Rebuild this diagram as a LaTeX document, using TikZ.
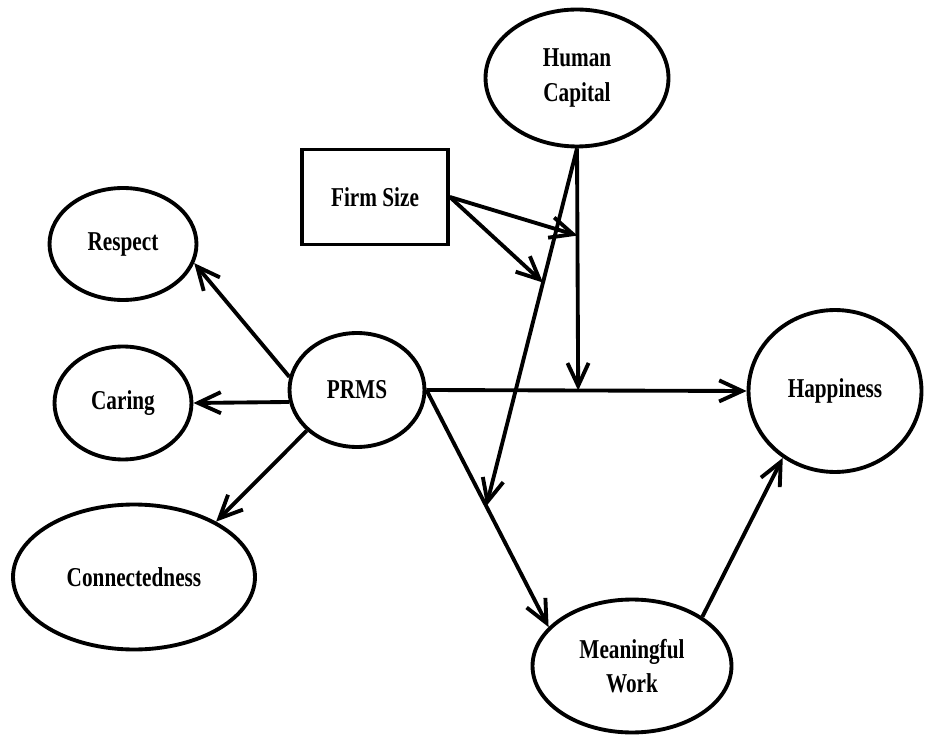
\documentclass[tikz,border=0pt]{standalone}
\usepackage{fontspec}
\newfontfamily\diagfont[FakeStretch=0.78]{Liberation Serif}
\usetikzlibrary{arrows.meta,shapes.geometric,calc}

\tikzset{
  latent/.style={ellipse,draw,line width=2.2pt,inner sep=0pt,align=center},
  observed/.style={rectangle,draw,line width=2.2pt,inner sep=0pt},
}

\begin{document}
\begin{tikzpicture}[x=0.02cm,y=-0.02cm,>={Straight Barb[length=13pt,width=12pt]},
    line width=2.2pt,font=\diagfont\bfseries\fontsize{15.5}{19.5}\selectfont]
    \useasboundingbox (0,0) rectangle (926,736);

    \node[latent,minimum width=3.66cm,minimum height=2.74cm] (hc) at (577,78) {Human\\Capital};
    \node[observed,minimum width=2.92cm,minimum height=1.9cm] (fs) at (375,197) {Firm Size};
    \node[latent,minimum width=2.94cm,minimum height=2.24cm] (respect) at (123,244) {Respect};
    \node[latent,minimum width=2.74cm,minimum height=2.26cm] (caring) at (123,403) {Caring};
    \node[latent,minimum width=2.7cm,minimum height=2.28cm] (prms) at (357,390) {PRMS};
    \node[latent,minimum width=4.84cm,minimum height=2.9cm] (conn) at (134,577) {Connectedness};
    \node[latent,minimum width=3.46cm,minimum height=3.24cm] (happy) at (835,391) {Happiness};
    \node[latent,minimum width=3.98cm,minimum height=2.66cm] (work) at (632,666) {Meaningful\\Work};

    \path[->] (prms.east) edge (happy.west)
                          edge (work.155)
              (prms.169) edge (respect.-15)
              (prms.190) edge (caring.east)
              (prms.219) edge (conn.34)
              (work.35) edge (happy.232);

    % moderators
    \coordinate (m1) at ($(prms.east)!0.474!(happy.west)$);
    \coordinate (m2) at ($(prms.east)!0.49!(work.155)$);
    \path[->] (hc.south) edge (m1)
                         edge (m2);
    \coordinate (m3) at ($(hc.south)!0.36!(m1)$);
    \coordinate (m4) at ($(hc.south)!0.375!(m2)$);
    \path[->] (fs.east) edge (m3)
                        edge (m4);
\end{tikzpicture}
\end{document}
